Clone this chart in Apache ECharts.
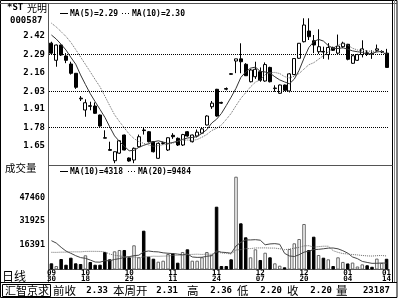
<!DOCTYPE html>
<html><head><meta charset="utf-8">
<script src="https://cdn.jsdelivr.net/npm/echarts@6.0.0/dist/echarts.min.js"></script>
<style>html,body{margin:0;padding:0;background:#fff}#c{width:400px;height:300px}</style>
</head><body><div id="c"></div>
<script>
const dates = ['09/30','10/08','10/11','10/12','10/13','10/14','10/15','10/18','10/19','10/20','10/21','10/22','10/25','10/26','10/27','10/28','10/29','11/01','11/02','11/03','11/04','11/05','11/08','11/09','11/10','11/11','11/12','11/15','11/16','11/17','11/18','11/19','11/22','11/23','11/24','11/25','11/26','11/29','11/30','12/01','12/02','12/03','12/06','12/07','12/08','12/09','12/10','12/13','12/14','12/15','12/16','12/17','12/20','12/21','12/22','12/23','12/24','12/27','12/28','12/29','12/30','01/04','01/05','01/06','01/07','01/10','01/11','01/12','01/13','01/14'];
const dateLabelIdx = [0,7,16,25,34,43,52,61,69];
const opens = [2.37,2.25,2.357,2.28,2.224,2.159,1.985,1.902,1.932,1.93, 1.867,1.708,1.625,1.547,1.60,1.727,1.566,1.552,1.645,1.762, 1.75,1.68,1.564,1.668,1.622,1.725,1.704,1.657,1.75,1.68, 1.72,1.74,1.797,1.925,2.047,1.955,2.052,2.156,2.245,2.26, 2.222,2.10,2.135,2.17,2.105,2.20,2.052,2.019,2.077,2.035, 2.15,2.264,2.38,2.455,2.387,2.31,2.312,2.29,2.34,2.30, 2.345,2.362,2.229,2.25,2.29,2.302,2.297,2.32,2.308,2.30];
const closes = [2.30,2.357,2.287,2.25,2.159,2.061,1.98,1.953,1.928,1.879, 1.79,1.705,1.62,1.61,1.687,1.622,1.545,1.634,1.715,1.758, 1.68,1.61,1.669,1.672,1.708,1.715,1.657,1.73,1.72,1.727, 1.747,1.77,1.86,1.95,1.86,1.95,2.048,2.152,2.26,2.24, 2.142,2.182,2.187,2.11,2.22,2.10,2.056,2.077,2.04,2.155, 2.262,2.369,2.497,2.415,2.357,2.345,2.308,2.34,2.32,2.35, 2.37,2.257,2.282,2.29,2.33,2.298,2.293,2.33,2.312,2.20];
const lows = [2.29,2.205,2.28,2.23,2.15,2.05,1.965,1.855,1.90,1.875, 1.785,1.705,1.618,1.53,1.595,1.62,1.54,1.53,1.64,1.73, 1.675,1.605,1.56,1.66,1.615,1.70,1.65,1.65,1.715,1.675, 1.71,1.735,1.795,1.91,1.855,1.945,2.04,2.15,2.16,2.159, 2.14,2.095,2.12,2.10,2.10,2.095,2.03,2.015,2.035,2.025, 2.145,2.26,2.375,2.392,2.30,2.295,2.26,2.255,2.315,2.29, 2.335,2.25,2.225,2.245,2.27,2.28,2.26,2.31,2.30,2.20];
const highs = [2.38,2.36,2.36,2.30,2.24,2.16,2.00,1.977,1.96,1.955, 1.87,1.76,1.68,1.612,1.69,1.73,1.57,1.64,1.73,1.78, 1.755,1.685,1.675,1.68,1.71,1.74,1.71,1.735,1.755,1.73, 1.765,1.78,1.865,1.965,2.05,1.96,2.06,2.16,2.26,2.369, 2.23,2.19,2.24,2.20,2.235,2.205,2.075,2.08,2.08,2.16, 2.265,2.37,2.544,2.544,2.427,2.467,2.345,2.37,2.345,2.43, 2.38,2.365,2.29,2.295,2.39,2.32,2.32,2.36,2.32,2.33];
const volumes = [4100,2300,6940,3170,7800,4100,3640,9390,4960,3170, 3170,11570,6740,12030,12890,12890,8060,16000,8060,25650, 8460,7140,5160,5820,10250,10710,4500,11570,13350,5820, 5820,8060,11570,9780,41510,2310,2310,6740,61340,30540, 21280,8060,13350,6280,11100,8060,4100,2510,1450,13550, 17320,20160,30080,12890,21680,9580,7800,6740,2310,8060, 5000,4000,4600,2000,3400,2800,1800,7200,4300,7100];
// closes / volumes before the first visible day (seed the moving averages)
const preCloses = [2.63,2.61,2.59,2.57,2.565,2.50,2.47,2.45,2.415];
const preVolumes = [3500,4000,3200,3800,3600,4200,3300,3900,3500,4000,18000,35000,28000,22510,20000,16230,14000,16560,16000];
const priceTickLabels = ['2.42','2.29','2.16','2.03','1.91','1.78','1.65'];
const priceGridLines = [2.29,2.03,1.78];
const volTickLabels = ['47460','31925','16391'];
const maPriceText = ['MA(5)=2.29','MA(10)=2.30'];
const maVolText = ['MA(10)=4318','MA(20)=9484'];
const stockName = '*ST 光明', stockCode = '000587';
const footer = [['汇智京求',null],['前收','2.33'],['本周开','2.31'],['高','2.36'],['低','2.20'],['收','2.20'],['量','23187']];

function ma(pre, arr, n){
  const all = pre.concat(arr);
  return arr.map((_, i) => { let s = 0; for (let k = 0; k < n; k++) s += all[pre.length + i - k]; return +(s / n).toFixed(4); });
}
const candles = opens.map((o, i) => [o, closes[i], lows[i], highs[i]]);
const volData = volumes.map((v, i) => ({
  value: v,
  itemStyle: closes[i] >= opens[i] ? {color:'#fff', borderColor:'#666', borderWidth:1} : {color:'#000', borderColor:'#000', borderWidth:1}
}));
const mono = '"DejaVu Sans Mono", monospace';
const cjk = '"Noto Sans CJK SC", sans-serif';

const chart = echarts.init(document.getElementById('c'), null, {renderer:'canvas'});
const g = [];
const line = (x1,y1,x2,y2,stroke,dash) => g.push({type:'line', silent:true, shape:{x1,y1,x2,y2}, style:{stroke:stroke||'#000', lineWidth:1, lineDash:dash||null}});
const rect = (x,y,w,h,stroke) => g.push({type:'rect', silent:true, shape:{x,y,width:w,height:h}, style:{fill:'none', stroke:stroke||'#000', lineWidth:1}});
const text = (t,x,y,font,align) => g.push({type:'text', silent:true, style:{text:t, x, y, font, fill:'#000', textAlign:align||'left', textVerticalAlign:'middle'}});

// frames
rect(0.5,0.5,396.5,297);
line(0,3.5,397,3.5,'#555');
line(392.5,0,392.5,282.5,'#000');
line(394.5,0,394.5,282.5,'#888');
line(48.5,3.5,48.5,282.5,'#555');
line(48.5,165.5,392.5,165.5,'#555');
line(0,282.5,397,282.5,'#000');
rect(2.5,284.5,48,12);
// legends
line(60,13.5,68,13.5,'#000');
text(maPriceText[0],70,13.5,'bold 8px '+mono);
line(122,13.5,130,13.5,'#000',[1,2]);
text(maPriceText[1],132,13.5,'bold 8px '+mono);
line(60,171.5,68,171.5,'#000');
text(maVolText[0],70,171.5,'bold 8px '+mono);
line(128,171.5,136,171.5,'#000',[1,2]);
text(maVolText[1],138,171.5,'bold 8px '+mono);
// left captions
text(stockName.split(' ')[0],7,8,'bold 9px '+mono);
text(stockName.split(' ')[1],27,8,'10px '+cjk);
text(stockCode,10,21,'bold 9px '+mono);
text('成交量',5,168,'10.5px '+cjk);
text('日线',2,276,'12px '+cjk);
// footer: label left x, number right edge x
const fx = [[5,null],[53,108],[113,178],[187,232],[237,282],[287,332],[336,390]];
footer.forEach((f,i) => {
  text(f[0], fx[i][0], 290.5, (i===0?'11px ':'11.5px ')+cjk);
  if (f[1]) text(f[1], fx[i][1], 290.5, 'bold 9px '+mono, 'right');
});

const dateAxis = (part, margin, showLine) => ({
  type:'category', gridIndex:1, data:dates, boundaryGap:true, position:'bottom',
  axisLine:{show:showLine, lineStyle:{color:'#555', width:1}}, axisTick:{show:false}, splitLine:{show:false},
  axisLabel:{show:true, interval:(i)=>dateLabelIdx.indexOf(i)>=0, formatter:(v)=>v.split('/')[part],
    fontFamily:mono, fontWeight:'bold', fontSize:7.5, lineHeight:7, verticalAlign:'top', color:'#000', margin:margin}
});

chart.setOption({
  animation:false,
  grid:[{left:49, width:340, top:4, height:160.3},{left:49, width:340, top:165.5, height:104}],
  xAxis:[
    {type:'category', gridIndex:0, data:dates, boundaryGap:true, axisLine:{show:false}, axisTick:{show:false}, axisLabel:{show:false}, splitLine:{show:false}},
    dateAxis(0, 0.5, true),
    Object.assign(dateAxis(1, 6.5, false), {offset:0})
  ],
  yAxis:[
    {type:'value', gridIndex:0, min:1.522, max:2.644, axisLine:{show:false}, axisTick:{show:false}, splitLine:{show:false},
     axisLabel:{show:true, customValues:priceTickLabels.map(Number), formatter:(v)=>{const s=v.toFixed(2); return priceTickLabels.indexOf(s)>=0?s:'';}, fontFamily:mono, fontWeight:'bold', fontSize:9, color:'#000', margin:4}},
    {type:'value', gridIndex:1, min:0, max:68744, axisLine:{show:false}, axisTick:{show:false}, splitLine:{show:false},
     axisLabel:{show:true, customValues:volTickLabels.map(Number), formatter:(v)=>String(Math.round(v)), fontFamily:mono, fontWeight:'bold', fontSize:8.5, color:'#000', margin:4}}
  ],
  series:[
    {type:'candlestick', xAxisIndex:0, yAxisIndex:0, data:candles, barWidth:3.5,
     itemStyle:{color:'#fff', color0:'#000', borderColor:'#000', borderColor0:'#000', borderWidth:1},
     markLine:{silent:true, symbol:'none', label:{show:false}, lineStyle:{type:'dotted', color:'#000', width:1}, data:priceGridLines.map(v=>({yAxis:v}))}},
    {type:'line', xAxisIndex:0, yAxisIndex:0, data:ma(preCloses, closes, 5), showSymbol:false, symbol:'none', lineStyle:{color:'#333', width:1}, z:3},
    {type:'line', xAxisIndex:0, yAxisIndex:0, data:ma(preCloses, closes, 10), showSymbol:false, symbol:'none', lineStyle:{color:'#666', width:1, type:'dotted'}, z:3},
    {type:'bar', xAxisIndex:1, yAxisIndex:1, data:volData, barWidth:3.5},
    {type:'line', xAxisIndex:1, yAxisIndex:1, data:ma(preVolumes, volumes, 10), showSymbol:false, symbol:'none', lineStyle:{color:'#444', width:1}, z:3},
    {type:'line', xAxisIndex:1, yAxisIndex:1, data:ma(preVolumes, volumes, 20), showSymbol:false, symbol:'none', lineStyle:{color:'#666', width:1, type:'dotted'}, z:3}
  ],
  graphic:g
});
</script></body></html>
